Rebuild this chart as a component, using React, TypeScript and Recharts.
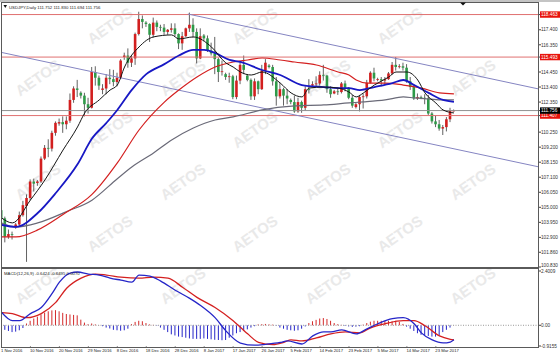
import React from 'react';
import { ComposedChart, Bar, Line, XAxis, YAxis, ReferenceLine } from 'recharts';

// date labels under the MACD pane (bar index -> label)
const tickBars = [0, 8, 16, 24, 32, 40, 48, 56, 64, 72, 80, 88, 96, 104, 112, 120];
const tickLabels = ['1 Nov 2016', '10 Nov 2016', '20 Nov 2016', '29 Nov 2016', '8 Dec 2016', '18 Dec 2016', '28 Dec 2016', '8 Jan 2017', '17 Jan 2017', '26 Jan 2017', '5 Feb 2017', '14 Feb 2017', '23 Feb 2017', '5 Mar 2017', '14 Mar 2017', '23 Mar 2017'];

// USDJPY daily candles
const opens = [
  104.8, 104.23, 102.95, 103.13, 103.6, 103.8, 104.45, 105.1, 105.65, 106.8,
  106.7, 106.8, 108.4, 109.15, 109.1, 110.2, 110.85, 110.95, 110.8, 111.05,
  112.5, 113.3, 113.0, 112.8, 112.2, 111.95, 114.45, 114.05, 113.2, 113.3,
  114.05, 113.95, 113.75, 114.05, 115.5, 115.6, 115.1, 115.4, 117.1, 118.15,
  117.9, 117.8, 117.05, 117.9, 117.6, 117.55, 117.25, 117.4, 117.5, 117.1,
  116.45, 116.95, 117.5, 117.75, 117.25, 115.4, 117.0, 116.8, 115.95, 115.75,
  115.35, 114.45, 114.3, 114.1, 114.15, 112.7, 113.85, 114.95, 114.2, 113.9,
  112.75, 113.8, 113.25, 114.55, 114.9, 114.8, 113.8, 112.75, 113.25, 112.8,
  112.5, 112.35, 111.7, 112.35, 111.95, 113.25, 113.5, 113.6, 113.65, 114.25,
  114.2, 113.25, 112.95, 113.1, 113.05, 113.65, 113.35, 112.65, 112.0, 112.2,
  112.7, 112.75, 113.7, 114.4, 113.9, 113.95, 113.85, 113.95, 114.35, 114.95,
  114.8, 114.85, 114.75, 113.8, 113.4, 112.6, 112.7, 112.65, 112.6, 111.55,
  111.0, 110.8, 110.5, 110.6, 111.15, 111.752,
];
const highs = [
  104.87, 104.35, 103.45, 103.3, 103.9, 104.7, 105.45, 105.9, 106.95, 107.0,
  106.9, 108.55, 109.35, 109.75, 110.35, 111.0, 111.2, 111.35, 111.35, 112.95,
  113.45, 113.9, 113.1, 113.0, 112.65, 114.8, 114.85, 114.2, 113.6, 114.3,
  114.65, 114.6, 114.4, 115.35, 115.8, 116.1, 115.6, 117.2, 118.66, 118.4,
  118.0, 117.85, 118.25, 118.05, 117.75, 117.8, 117.45, 117.85, 117.85, 117.15,
  117.25, 117.55, 118.6, 118.2, 117.5, 117.5, 117.1, 117.0, 116.5, 116.9,
  115.45, 115.25, 114.4, 114.4, 114.25, 114.2, 115.15, 115.6, 114.3, 114.0,
  114.0, 113.85, 114.95, 115.35, 115.0, 114.95, 114.1, 113.7, 113.35, 113.25,
  112.6, 112.8, 112.65, 112.45, 113.45, 113.95, 113.8, 114.15, 114.5, 114.95,
  114.25, 113.45, 113.2, 113.35, 113.75, 113.85, 113.4, 112.85, 112.3, 112.85,
  112.95, 113.9, 114.5, 114.75, 114.05, 114.1, 114.1, 114.45, 115.15, 115.5,
  115.0, 115.1, 115.0, 114.1, 113.6, 112.95, 112.8, 112.9, 112.85, 111.65,
  111.4, 111.1, 110.75, 111.3, 111.95, 111.83,
];
const lows = [
  103.98, 102.55, 102.8, 102.75, 103.5, 103.7, 104.35, 101.19, 105.5, 106.1,
  106.5, 106.7, 108.3, 108.5, 108.9, 110.0, 110.7, 110.2, 110.45, 110.9,
  112.3, 112.7, 112.6, 111.35, 111.55, 111.9, 113.5, 113.2, 112.9, 112.9,
  113.6, 113.45, 113.45, 113.95, 115.3, 114.75, 114.8, 114.95, 117.0, 117.5,
  117.6, 116.55, 116.85, 117.3, 117.3, 117.05, 117.05, 117.2, 116.95, 116.05,
  116.0, 116.9, 117.25, 116.85, 115.05, 115.35, 116.6, 115.85, 115.6, 114.3,
  113.75, 114.2, 113.9, 113.7, 112.55, 112.55, 113.6, 114.3, 113.8, 112.5,
  112.5, 112.9, 113.2, 114.3, 114.7, 113.5, 112.1, 112.6, 112.1, 112.2,
  112.2, 111.6, 111.6, 111.6, 111.75, 112.95, 113.4, 113.4, 113.5, 113.85,
  113.0, 112.65, 112.9, 112.85, 112.95, 113.1, 112.55, 111.95, 111.9, 111.7,
  111.9, 112.6, 113.65, 113.8, 113.8, 113.45, 113.6, 113.9, 114.25, 114.55,
  114.7, 114.55, 113.7, 113.2, 112.5, 112.5, 112.55, 112.2, 111.45, 110.85,
  110.6, 110.35, 110.05, 110.3, 110.95, 111.694,
];
const closes = [
  104.23, 102.95, 103.13, 103.1, 103.8, 104.45, 105.15, 105.65, 106.8, 106.65,
  106.8, 108.4, 109.15, 109.1, 110.2, 110.9, 110.95, 110.8, 111.05, 112.5,
  113.3, 113.2, 112.8, 112.2, 111.95, 114.45, 114.05, 113.5, 113.3, 114.05,
  113.95, 113.75, 114.05, 115.25, 115.6, 115.1, 115.4, 117.1, 118.15, 117.95,
  117.8, 117.05, 117.9, 117.6, 117.55, 117.25, 117.4, 117.5, 117.1, 116.45,
  116.95, 117.5, 117.75, 117.25, 115.4, 116.95, 116.8, 115.95, 115.75, 115.35,
  114.45, 114.5, 114.1, 114.15, 112.7, 113.85, 114.95, 114.6, 113.9, 112.75,
  113.8, 113.25, 114.55, 115.1, 114.8, 113.8, 112.75, 113.25, 112.8, 112.6,
  112.35, 111.7, 112.35, 111.95, 113.25, 113.2, 113.6, 113.65, 114.25, 114.2,
  113.25, 112.9, 113.1, 113.05, 113.65, 113.35, 112.65, 112.1, 112.2, 112.7,
  112.75, 113.7, 114.4, 114.0, 113.95, 113.85, 113.95, 114.35, 114.95, 114.8,
  114.85, 114.75, 113.8, 113.4, 112.6, 112.7, 112.65, 112.6, 111.55, 111.0,
  110.8, 110.5, 110.6, 111.15, 111.72, 111.756,
];

// moving averages: [bar index, price]
const maBlack = [[0, 104.26], [3, 103.91], [8, 105.51], [12, 106.91], [17, 109.0], [21, 110.61], [23, 111.59], [27, 112.5], [30, 113.19], [32, 113.54], [34, 114.8], [38, 116.2], [42, 116.9], [47, 117.04], [49, 116.76], [53, 116.9], [58, 116.2], [62, 115.08], [64, 114.8], [66, 114.45], [69, 114.24], [72, 114.45], [77, 113.68], [80, 112.99], [83, 112.71], [85, 113.33], [89, 113.4], [93, 113.33], [96, 113.05], [98, 112.71], [100, 112.99], [103, 113.54], [107, 114.1], [109, 114.45], [112, 114.45], [115, 113.89], [117, 112.99], [120, 112.29], [122, 111.8], [125, 111.59]];
const maBlue = [[0, 103.77], [4, 103.63], [10, 104.6], [15, 106.0], [21, 108.0], [25, 109.8], [29, 110.9], [32, 111.8], [36, 113.2], [40, 114.3], [45, 115.0], [49, 115.6], [53, 116.0], [56, 116.0], [59, 115.78], [63, 115.29], [66, 115.15], [72, 114.59], [77, 114.24], [83, 113.54], [89, 113.4], [93, 113.33], [96, 113.33], [99, 113.19], [103, 113.4], [108, 113.68], [111, 113.89], [114, 113.54], [118, 112.99], [122, 112.5], [125, 112.36]];
const maRed = [[0, 102.93], [4, 102.93], [10, 103.42], [17, 104.5], [25, 105.9], [32, 108.1], [38, 110.4], [45, 112.35], [49, 113.19], [54, 114.1], [59, 114.8], [64, 115.15], [68, 115.29], [72, 115.43], [77, 115.29], [81, 115.15], [87, 114.94], [93, 114.45], [96, 114.24], [98, 113.89], [101, 113.68], [106, 113.68], [111, 113.54], [116, 113.33], [121, 112.99], [125, 112.92]];
const maGray = [[0, 103.91], [4, 103.63], [10, 103.91], [18, 104.7], [25, 105.5], [32, 107.0], [36, 107.82], [42, 108.8], [47, 109.7], [53, 110.54], [59, 111.1], [64, 111.31], [72, 111.8], [81, 112.08], [89, 112.15], [96, 112.29], [100, 112.36], [106, 112.5], [111, 112.71], [114, 112.64], [118, 112.57], [122, 112.5], [125, 112.5]];

// price lines and channel
const alertLevels = [118.463, 115.493, 111.407];
const lastPrice = 111.756;
const priceTicks = [117.4, 116.35, 114.45, 113.4, 112.35, 110.25, 109.2, 108.15, 107.1, 106.05, 105.0, 103.95, 102.9, 101.86, 100.83];
const channelUpper = [[51.5, 118.5], [148.5, 113.26]];
const channelLower = [[0.14, 115.81], [148.5, 107.82]];
const titleText = 'USDJPY,Daily  111.752 111.830 111.694 111.756';

// MACD pane
const macdHist = [
  -0.15, -0.2, -0.25, -0.3, -0.28, -0.22, -0.12, 0.08, 0.2, 0.3,
  0.38, 0.48, 0.56, 0.62, 0.66, 0.67, 0.62, 0.55, 0.5, 0.48,
  0.46, 0.44, 0.25, 0.12, 0.05, 0.08, 0.04, 0.01, -0.04, -0.1,
  -0.14, -0.2, -0.22, -0.24, -0.22, -0.15, 0.05, 0.15, 0.2, 0.18,
  0.1, 0.04, 0.02, -0.02, -0.1, -0.2, -0.3, -0.4, -0.45, -0.5,
  -0.52, -0.55, -0.58, -0.6, -0.6, -0.6, -0.58, -0.6, -0.62, -0.64,
  -0.65, -0.66, -0.65, -0.55, -0.45, -0.35, -0.3, -0.25, -0.18, -0.1,
  -0.04, 0.04, 0.05, 0.06, 0.04, 0.03, -0.02, -0.1, -0.15, -0.2,
  -0.22, -0.24, -0.22, -0.15, -0.05, 0.1, 0.18, 0.24, 0.3, 0.32,
  0.28, 0.2, 0.1, 0.05, 0.02, -0.03, -0.05, -0.07, -0.06, -0.04,
  0.03, 0.1, 0.16, 0.2, 0.2, 0.2, 0.2, 0.2, 0.18, 0.2,
  0.15, 0.06, -0.06, -0.15, -0.25, -0.35, -0.42, -0.45, -0.47, -0.5,
  -0.5, -0.45, -0.3, -0.2, -0.1, 0.007,
];
const macdMain = [[0, 0.576], [3, 0.204], [5, 0.204], [8, 0.518], [11, 0.787], [14, 1.414], [16, 1.908], [19, 2.311], [21, 2.356], [24, 2.267], [27, 2.222], [30, 2.087], [33, 1.997], [36, 1.908], [38, 2.222], [41, 2.177], [44, 1.953], [48, 1.549], [52, 1.19], [55, 0.876], [59, 0.338], [62, -0.245], [66, -0.783], [70, -0.88], [73, -0.84], [77, -0.76], [79, -0.693], [83, -0.828], [86, -0.469], [89, -0.29], [91, -0.29], [94, -0.2], [98, -0.379], [101, -0.155], [104, 0.069], [108, 0.293], [111, 0.338], [114, 0.069], [116, -0.334], [119, -0.648], [122, -0.78], [124, -0.74], [125, -0.6424]];
const macdSignal = [[0, 0.562], [3, 0.518], [7, 0.338], [11, 0.518], [15, 1.011], [18, 1.639], [22, 2.087], [26, 2.267], [29, 2.222], [33, 2.132], [38, 2.087], [42, 2.132], [46, 2.087], [50, 1.683], [54, 1.235], [59, 0.787], [64, 0.204], [68, -0.379], [71, -0.75], [75, -0.85], [78, -0.75], [80, -0.648], [83, -0.693], [87, -0.559], [91, -0.379], [95, -0.29], [99, -0.334], [102, -0.11], [106, 0.069], [111, 0.204], [114, 0.204], [117, -0.02], [121, -0.469], [124, -0.62], [125, -0.6495]];
const macdTicks = [2.4009, 0, -0.9155];
const macdTitle = 'MACD(12,26,9) -0.6424 -0.6495 0.0070';

const FONT = '"Liberation Sans", Arial, sans-serif';
const UP = '#d21f1f';
const DOWN = '#2e9a48';

const bars = opens.map((o, i) => ({ i, o, h: highs[i], l: lows[i], c: closes[i], hist: macdHist[i] }));
const pts = (arr: number[][]) => arr.map(([i, v]) => ({ i, v }));

const Candle = (props: any) => {
  const { x, y, width, height, payload } = props;
  if (!payload || x == null) return null;
  const top = Math.min(y, y + height);
  const bot = Math.max(y, y + height);
  const k = (bot - top) / (payload.h - payload.l || 1);
  const cx = x + width / 2;
  const yo = top + (payload.h - payload.o) * k;
  const yc = top + (payload.h - payload.c) * k;
  const up = payload.c >= payload.o;
  return (
    <g>
      <line x1={cx} x2={cx} y1={top} y2={bot} stroke="#3a3a3a" strokeWidth={0.8} />
      <rect x={cx - 1.3} y={Math.min(yo, yc)} width={2.6} height={Math.max(Math.abs(yc - yo), 0.8)} fill={up ? UP : DOWN} />
    </g>
  );
};

const HistBar = (props: any) => {
  const { x, y, width, height, payload } = props;
  if (!payload || x == null) return null;
  const top = Math.min(y, y + height);
  return <rect x={x + width / 2 - 0.5} y={top} width={1} height={Math.abs(height)} fill={payload.hist >= 0 ? '#d42a2a' : '#2626c8'} />;
};

const PriceTick = ({ x, y, payload }: any) => {
  const v = payload.value;
  const label = v.toFixed(3);
  const boxed = v === lastPrice || alertLevels.includes(v);
  const ty = v === 100.83 ? y - 1.5 : y;
  if (boxed) {
    return (
      <g>
        <rect x={x - 1} y={ty - 3.2} width={20.5} height={6.4} fill={v === lastPrice ? '#000' : '#e8140c'} />
        <text x={x} y={ty} dy={1.7} fontSize={4.7} fontFamily={FONT} fill="#fff">{label}</text>
      </g>
    );
  }
  return <text x={x} y={ty} dy={1.7} fontSize={4.7} fontFamily={FONT} fill="#333">{label}</text>;
};

const MacdTick = ({ x, y, payload }: any) => {
  const v = payload.value;
  const label = v === 0 ? '0.00' : v.toFixed(4);
  return <text x={x} y={y} dy={1.7} fontSize={4.7} fontFamily={FONT} fill="#333">{label}</text>;
};

const DateTick = ({ x, y, payload }: any) => {
  const k = tickBars.indexOf(payload.value);
  return (
    <g>
      <line x1={x} x2={x} y1={y} y2={y + 2} stroke="#444" strokeWidth={0.6} />
      <text x={x - 0.5} y={y + 6} fontSize={4.2} fontFamily={FONT} fill="#222">{tickLabels[k]}</text>
    </g>
  );
};

// background "AETOS" watermark, only copies that fit fully inside the frame
const Watermark = () => {
  const marks = [];
  for (let r = 0; r < 7; r++) {
    for (let c = -1; c < 5; c++) {
      const x = 113 + c * 145 - (r % 2) * 72;
      const y = 30 + r * 52;
      if (x < 28 || x > 532 || y < 24 || y > 334) continue;
      marks.push(
        <text key={`${r}-${c}`} x={x} y={y} transform={`rotate(-35 ${x} ${y})`} textAnchor="middle" fontSize={15} fontWeight="bold" fontFamily={FONT} fill="#e9e9e9">AETOS</text>
      );
    }
  }
  return <svg width={560} height={357} style={{ position: 'absolute', left: 0, top: 0 }}>{marks}</svg>;
};

export default function App() {
  return (
    <div style={{ position: 'absolute', left: 0, top: 0, width: 560, height: 357, background: '#fff', overflow: 'hidden', fontFamily: FONT }}>
      <style>{'body{margin:0}.recharts-surface{overflow:visible}'}</style>
      <Watermark />
      <div style={{ position: 'absolute', left: 0, top: 0, width: 560, height: 2, background: '#c4c4c4' }} />

      <div style={{ position: 'absolute', left: 0, top: 0 }}>
        <ComposedChart width={560} height={268} data={bars} margin={{ top: 3, right: 0, bottom: 1, left: 2 }}>
          <XAxis dataKey="i" type="number" domain={[0.14, 148.5]} allowDataOverflow hide />
          <YAxis orientation="right" type="number" width={21} domain={[100.83, 119.27]} allowDataOverflow
            ticks={[...priceTicks, ...alertLevels, lastPrice]} interval={0} tick={<PriceTick />}
            tickSize={2} tickMargin={0} axisLine={false} tickLine={{ stroke: '#444' }} />
          {alertLevels.map((v) => (
            <ReferenceLine key={v} y={v} stroke="#e07070" strokeWidth={1} />
          ))}
          <ReferenceLine y={lastPrice} stroke="#909090" strokeWidth={1} />
          <ReferenceLine segment={channelUpper.map(([x, y]) => ({ x, y }))} stroke="#8585c2" strokeWidth={1} ifOverflow="hidden" />
          <ReferenceLine segment={channelLower.map(([x, y]) => ({ x, y }))} stroke="#8585c2" strokeWidth={1} ifOverflow="hidden" />
          <Line data={pts(maGray)} dataKey="v" type="monotone" stroke="#6a6a78" strokeWidth={1.2} dot={false} isAnimationActive={false} />
          <Line data={pts(maRed)} dataKey="v" type="monotone" stroke="#d42020" strokeWidth={1.2} dot={false} isAnimationActive={false} />
          <Line data={pts(maBlue)} dataKey="v" type="monotone" stroke="#1818c4" strokeWidth={1.8} dot={false} isAnimationActive={false} />
          <Bar dataKey={(d: any) => [d.l, d.h]} barSize={3} shape={<Candle />} isAnimationActive={false} />
          <Line data={pts(maBlack)} dataKey="v" type="monotone" stroke="#151515" strokeWidth={1} dot={false} isAnimationActive={false} />
        </ComposedChart>
      </div>

      <div style={{ position: 'absolute', left: 0, top: 268 }}>
        <ComposedChart width={560} height={89} data={bars} margin={{ top: 3, right: 0, bottom: 0, left: 2 }}>
          <XAxis dataKey="i" type="number" domain={[0.14, 148.5]} allowDataOverflow height={11}
            ticks={tickBars} interval={0} tick={<DateTick />} tickSize={0} tickMargin={0} axisLine={false} tickLine={false} />
          <YAxis orientation="right" type="number" width={21} domain={[-0.9155, 2.4009]} allowDataOverflow
            ticks={macdTicks} interval={0} tick={<MacdTick />} tickSize={2} tickMargin={0} axisLine={false} tickLine={{ stroke: '#444' }} />
          <ReferenceLine y={0} stroke="#9a9a9a" strokeDasharray="1 1.5" />
          <Bar dataKey="hist" barSize={1} shape={<HistBar />} isAnimationActive={false} />
          <Line data={pts(macdSignal)} dataKey="v" type="monotone" stroke="#d42020" strokeWidth={1.3} dot={false} isAnimationActive={false} />
          <Line data={pts(macdMain)} dataKey="v" type="monotone" stroke="#2626c8" strokeWidth={1.3} dot={false} isAnimationActive={false} />
        </ComposedChart>
      </div>

      <div style={{ position: 'absolute', left: 1, top: 2, width: 538, height: 266, boxSizing: 'border-box', border: '1px solid #5a5a5a' }} />
      <div style={{ position: 'absolute', left: 1, top: 268, width: 538, height: 80, boxSizing: 'border-box', border: '1px solid #5a5a5a' }} />

      <svg width={560} height={357} style={{ position: 'absolute', left: 0, top: 0, pointerEvents: 'none' }}>
        <polygon points="3.5,5 7,5 5.25,8" fill="#111" />
        <text x={9} y={8.5} fontSize={4.3} fontFamily={FONT} fill="#222">{titleText}</text>
        <polygon points="460,2.5 466,2.5 463,5.5" fill="#111" />
        <text x={4} y={275} fontSize={4.3} fontFamily={FONT} fill="#222">{macdTitle}</text>
      </svg>
    </div>
  );
}
